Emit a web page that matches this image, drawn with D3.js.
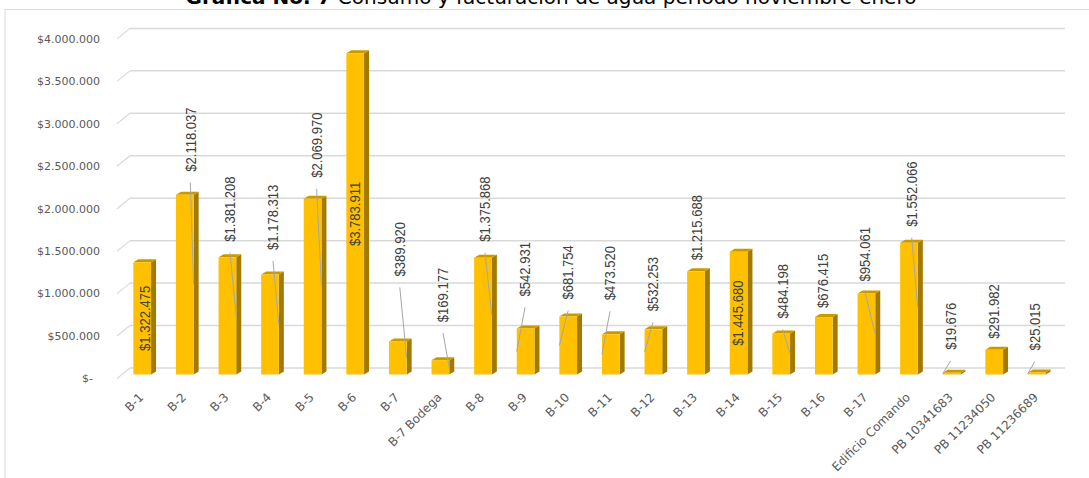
<!DOCTYPE html>
<html>
<head>
<meta charset="utf-8">
<script src="https://cdn.jsdelivr.net/npm/d3@7"></script>
<style>
  body { margin: 0; background: #fff; }
  #chart { width: 1089px; height: 478px; overflow: hidden; }
</style>
</head>
<body>
<div id="chart"></div>
<script>
var categories = ["B-1", "B-2", "B-3", "B-4", "B-5", "B-6", "B-7", "B-7 Bodega", "B-8", "B-9", "B-10",
    "B-11", "B-12", "B-13", "B-14", "B-15", "B-16", "B-17", "Edificio Comando",
    "PB 10341683", "PB 11234050", "PB 11236689"];
var values = [1322475, 2118037, 1381208, 1178313, 2069970, 3783911, 389920, 169177, 1375868, 542931, 681754,
    473520, 532253, 1215688, 1445680, 484198, 676415, 954061, 1552066,
    19676, 291982, 25015];
var yTicks = [0, 500000, 1000000, 1500000, 2000000, 2500000, 3000000, 3500000, 4000000];

// label placement (Excel moved these by hand): px above bar top, null = centred inside the bar
var labelGap = [null, 23, 15.5, 24.5, 21, null, 65, 38, 16, 32, 17,
    34, 18, 11, null, 15, 9, 12, 16, 23, 11, 22];
var labelDx = [3, 5.5, 2.6, 3, 4, 0, 2, 2.6, 2, -0.6, 0,
    -0.8, -0.4, 1, -1, 1.5, -1, -1.4, 2.7, -1, 0, -2];
// which side of the bar the leader line goes to (0 = no leader)
var leaderSide = [0, 1, 1, 1, 1, 0, 1, 1, 1, -1, -1, -1, -1, 0, 0, 1, 0, 1, 1, -1, 0, -1];

function init() {
    var w = 1089;
    var h = 478;
    var barW = 17.7;
    var depthX = 5, depthY = -3;

    var locale = d3.formatLocale({ decimal: ",", thousands: ".", grouping: [3], currency: ["$", ""] });
    var fmt = locale.format("$,");
    function money(d) { return d === 0 ? "$-" : fmt(d); }

    var svg = d3.select("#chart")
        .append("svg")
        .attr("width", w)
        .attr("height", h);

    // outer chart border
    svg.append("rect")
        .attr("x", 5).attr("y", 9.5)
        .attr("width", 1100).attr("height", 500)
        .attr("fill", "none")
        .attr("stroke", "#d9d9d9");

    var title = svg.append("text")
        .attr("x", 551)
        .attr("y", 4)
        .attr("text-anchor", "middle")
        .attr("font-family", "DejaVu Sans, Verdana, sans-serif")
        .attr("font-size", 20)
        .attr("fill", "#000");
    title.append("tspan").attr("font-weight", "bold").text("Gráfica No. 7");
    title.append("tspan").text(" Consumo y facturación de agua periodo noviembre-enero");

    var xScale = d3.scalePoint()
        .domain(categories)
        .range([120.9, 1058.1])
        .padding(0.5);

    var yScale = d3.scaleLinear()
        .domain([0, 4000000])
        .range([374.5, 34.9]);

    var wallDy = -6.5;

    // back wall gridlines and floor diagonals
    var grid = svg.append("g");
    grid.selectAll(".wall")
        .data(yTicks)
        .enter()
        .append("line")
        .attr("x1", 130).attr("x2", 1065)
        .attr("y1", function(d) { return yScale(d) + wallDy; })
        .attr("y2", function(d) { return yScale(d) + wallDy; })
        .attr("stroke", "#d9d9d9")
        .attr("stroke-width", 1.5);
    grid.selectAll(".diag")
        .data(yTicks)
        .enter()
        .append("line")
        .attr("x1", 117).attr("x2", 130)
        .attr("y1", function(d) { return yScale(d) + 4; })
        .attr("y2", function(d) { return yScale(d) + wallDy; })
        .attr("stroke", "#d9d9d9")
        .attr("stroke-width", 1.2);

    svg.append("g")
        .selectAll("text")
        .data(yTicks)
        .enter()
        .append("text")
        .attr("x", 100)
        .attr("dx", function(d) { return d === 0 ? -7 : 0; })
        .attr("y", function(d) { return yScale(d) + 4; })
        .attr("dy", "0.35em")
        .attr("text-anchor", "end")
        .attr("font-family", "DejaVu Sans, Verdana, sans-serif")
        .attr("font-size", 11)
        .attr("fill", "#595959")
        .text(money);

    // 3D bars: side, top, front
    var bars = svg.append("g")
        .selectAll("g")
        .data(values)
        .enter()
        .append("g");

    bars.append("path")
        .attr("fill", "#a37a00")
        .attr("d", function(d, i) {
            var x = xScale(categories[i]) + barW / 2, t = yScale(d), b = yScale(0);
            return "M" + x + "," + t + "L" + (x + depthX) + "," + (t + depthY) +
                "L" + (x + depthX) + "," + (b + depthY) + "L" + x + "," + b + "Z";
        });
    bars.append("path")
        .attr("fill", "#c99a00")
        .attr("d", function(d, i) {
            var x = xScale(categories[i]) - barW / 2, t = yScale(d);
            return "M" + x + "," + t + "L" + (x + depthX) + "," + (t + depthY) +
                "L" + (x + barW + depthX) + "," + (t + depthY) + "L" + (x + barW) + "," + t + "Z";
        });
    bars.append("rect")
        .attr("x", function(d, i) { return xScale(categories[i]) - barW / 2; })
        .attr("y", function(d) { return yScale(d); })
        .attr("width", barW)
        .attr("height", function(d) { return yScale(0) - yScale(d); })
        .attr("fill", "#ffc000");

    function labelX(i) { return xScale(categories[i]) + labelDx[i]; }
    function labelBottom(d, i) { return yScale(d) - labelGap[i]; }

    // leader lines
    svg.append("g")
        .selectAll("line")
        .data(d3.range(values.length).filter(function(i) { return leaderSide[i] !== 0; }))
        .enter()
        .append("line")
        .attr("x1", function(i) { return labelX(i); })
        .attr("y1", function(i) { return labelBottom(values[i], i) + 11; })
        .attr("x2", function(i) { return xScale(categories[i]) + leaderSide[i] * barW / 2; })
        .attr("y2", function(i) { return (yScale(values[i]) + yScale(0)) / 2; })
        .attr("stroke", "#a6a6a6")
        .attr("stroke-width", 1);

    // data labels, rotated and a bit condensed
    svg.append("g")
        .selectAll("text")
        .data(values)
        .enter()
        .append("text")
        .attr("transform", function(d, i) {
            var y = labelGap[i] === null ? (yScale(d) + yScale(0)) / 2 : labelBottom(d, i);
            return "translate(" + labelX(i) + "," + y + ") rotate(-90) scale(0.87,1)";
        })
        .attr("text-anchor", function(d, i) { return labelGap[i] === null ? "middle" : "start"; })
        .attr("dy", "0.35em")
        .attr("font-family", "Liberation Sans, Arial, sans-serif")
        .attr("font-size", 15)
        .attr("fill", "#404040")
        .text(money);

    // category labels
    svg.append("g")
        .selectAll("text")
        .data(categories)
        .enter()
        .append("text")
        .attr("transform", function(d) {
            return "translate(" + (xScale(d) + 2) + ",398) rotate(-45)";
        })
        .attr("text-anchor", "end")
        .attr("font-family", "DejaVu Sans, Verdana, sans-serif")
        .attr("font-size", 12)
        .attr("fill", "#595959")
        .text(function(d) { return d; });
}

window.onload = init;
</script>
</body>
</html>
